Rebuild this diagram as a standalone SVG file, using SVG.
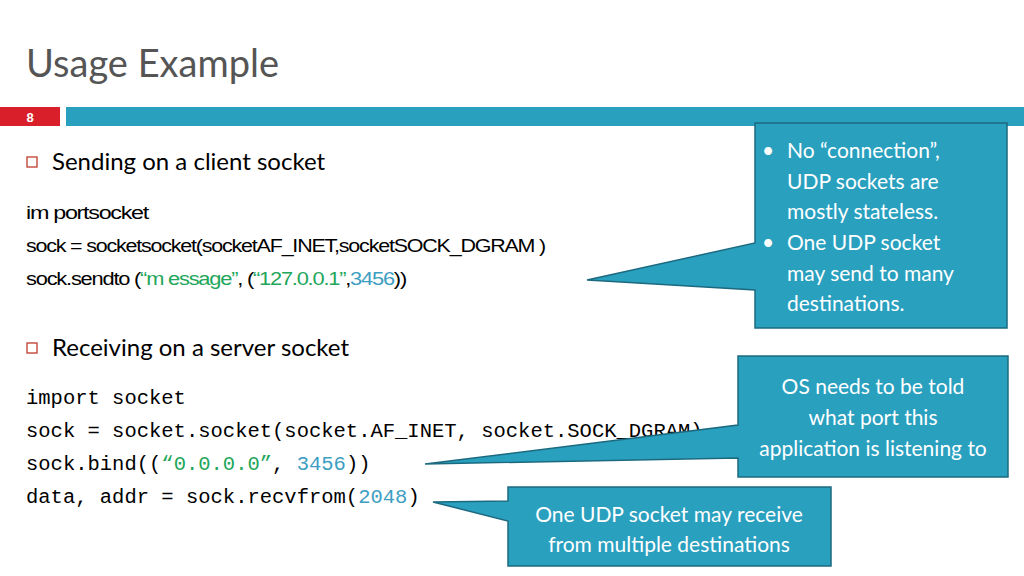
<svg xmlns="http://www.w3.org/2000/svg" width="1024" height="576" viewBox="0 0 1024 576">
<style>
.t{font-family:"Lato","Noto Sans",sans-serif}
.h{font-family:"Lato","Noto Sans",sans-serif;font-size:24px;fill:#000}
.c1{font-family:"Liberation Sans",sans-serif;font-size:18px;fill:#000;letter-spacing:-1px}
.m{font-family:"Liberation Mono",monospace;font-size:20.5px;fill:#000}
.g{fill:#21a65a}.b{fill:#3d9ec2}
.co{fill:#2aa0bf;stroke:#1c6a80;stroke-width:1.5}
.ct{font-family:"Lato","Noto Sans",sans-serif;font-size:21px;fill:#fff}
.sq{fill:none;stroke:#c0392b;stroke-width:1.3}
</style>
<rect width="1024" height="576" fill="#fff"/>
<text x="26" y="77" class="t" font-size="38" fill="#555">Usage Example</text>
<rect x="0" y="107" width="60" height="19" fill="#d9202a"/>
<text x="30" y="122" font-family="Liberation Sans,sans-serif" font-weight="bold" font-size="13" fill="#fff" text-anchor="middle">8</text>
<rect x="66" y="107" width="958" height="19" fill="#2aa0bf"/>
<rect class="sq" x="27" y="157" width="10" height="10"/>
<text x="52" y="170" class="h">Sending on a client socket</text>
<text x="26" y="219" class="c1" textLength="122" lengthAdjust="spacingAndGlyphs">im portsocket</text>
<text x="26" y="252" class="c1" textLength="519" lengthAdjust="spacingAndGlyphs">sock = socketsocket(socketAF_INET,socketSOCK_DGRAM )</text>
<text x="26" y="285" class="c1" textLength="380" lengthAdjust="spacingAndGlyphs">sock.sendto (<tspan class="g">“m essage”</tspan>, (<tspan class="g">“127.0.0.1”</tspan>,<tspan class="b">3456</tspan>))</text>
<rect class="sq" x="27" y="343" width="10" height="10"/>
<text x="52" y="356" class="h">Receiving on a server socket</text>
<text x="26" y="404" class="m">import socket</text>
<text x="26" y="437" class="m">sock = socket.socket(socket.AF_INET, socket.SOCK_DGRAM)</text>
<text x="26" y="470" class="m">sock.bind((<tspan class="g">“0.0.0.0”</tspan>, <tspan class="b">3456</tspan>))</text>
<text x="26" y="503" class="m">data, addr = sock.recvfrom(<tspan class="b">2048</tspan>)</text>
<g id="callout1">
<path class="co" d="M755,123 H1007 V328 H755 V290 L587,280 L755,243 Z"/>
<g class="ct">
<text x="762" y="158">•</text><text x="787" y="158">No “connection”,</text>
<text x="787" y="189">UDP sockets are</text>
<text x="787" y="219">mostly stateless.</text>
<text x="762" y="250">•</text><text x="787" y="250">One UDP socket</text>
<text x="787" y="281">may send to many</text>
<text x="787" y="311">destinations.</text>
</g></g>
<g id="callout2">
<path class="co" d="M738,356 H1008 V477 H738 V458 L425,464 L738,425 Z"/>
<g class="ct" text-anchor="middle">
<text x="873" y="394">OS needs to be told</text>
<text x="873" y="425">what port this</text>
<text x="873" y="456">application is listening to</text>
</g></g>
<g id="callout3">
<path class="co" d="M508,487 H831 V566 H508 V521 L433,502 L508,501 Z"/>
<g class="ct" text-anchor="middle">
<text x="669" y="522">One UDP socket may receive</text>
<text x="669" y="552">from multiple destinations</text>
</g></g>
</svg>
